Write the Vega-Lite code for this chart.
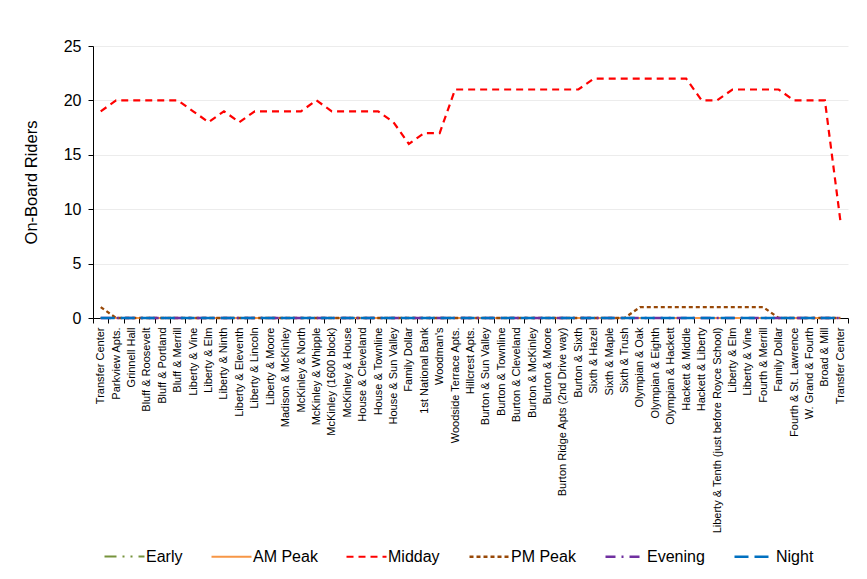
{
  "$schema": "https://vega.github.io/schema/vega-lite/v6.json",
  "autosize": {"type": "none"},
  "width": 755,
  "height": 272,
  "padding": {"left": 93, "top": 46, "right": 19, "bottom": 261},
  "background": "white",
  "config": {
    "font": "Liberation Sans",
    "view": {"stroke": null}
  },
  "data": {
    "values": [
      {"stop": "Transfer Center", "Early": 0, "AM Peak": 0, "Midday": 19, "PM Peak": 1, "Evening": 0, "Night": 0},
      {"stop": "Parkview Apts.", "Early": 0, "AM Peak": 0, "Midday": 20, "PM Peak": 0, "Evening": 0, "Night": 0},
      {"stop": "Grinnell Hall", "Early": 0, "AM Peak": 0, "Midday": 20, "PM Peak": 0, "Evening": 0, "Night": 0},
      {"stop": "Bluff & Roosevelt", "Early": 0, "AM Peak": 0, "Midday": 20, "PM Peak": 0, "Evening": 0, "Night": 0},
      {"stop": "Bluff & Portland", "Early": 0, "AM Peak": 0, "Midday": 20, "PM Peak": 0, "Evening": 0, "Night": 0},
      {"stop": "Bluff & Merrill", "Early": 0, "AM Peak": 0, "Midday": 20, "PM Peak": 0, "Evening": 0, "Night": 0},
      {"stop": "Liberty & Vine", "Early": 0, "AM Peak": 0, "Midday": 19, "PM Peak": 0, "Evening": 0, "Night": 0},
      {"stop": "Liberty & Elm", "Early": 0, "AM Peak": 0, "Midday": 18, "PM Peak": 0, "Evening": 0, "Night": 0},
      {"stop": "Liberty & Ninth", "Early": 0, "AM Peak": 0, "Midday": 19, "PM Peak": 0, "Evening": 0, "Night": 0},
      {"stop": "Liberty & Eleventh", "Early": 0, "AM Peak": 0, "Midday": 18, "PM Peak": 0, "Evening": 0, "Night": 0},
      {"stop": "Liberty & Lincoln", "Early": 0, "AM Peak": 0, "Midday": 19, "PM Peak": 0, "Evening": 0, "Night": 0},
      {"stop": "Liberty & Moore", "Early": 0, "AM Peak": 0, "Midday": 19, "PM Peak": 0, "Evening": 0, "Night": 0},
      {"stop": "Madison & McKinley", "Early": 0, "AM Peak": 0, "Midday": 19, "PM Peak": 0, "Evening": 0, "Night": 0},
      {"stop": "McKinley & North", "Early": 0, "AM Peak": 0, "Midday": 19, "PM Peak": 0, "Evening": 0, "Night": 0},
      {"stop": "McKinley & Whipple", "Early": 0, "AM Peak": 0, "Midday": 20, "PM Peak": 0, "Evening": 0, "Night": 0},
      {"stop": "McKinley  (1600 block)", "Early": 0, "AM Peak": 0, "Midday": 19, "PM Peak": 0, "Evening": 0, "Night": 0},
      {"stop": "McKinley & House", "Early": 0, "AM Peak": 0, "Midday": 19, "PM Peak": 0, "Evening": 0, "Night": 0},
      {"stop": "House & Cleveland", "Early": 0, "AM Peak": 0, "Midday": 19, "PM Peak": 0, "Evening": 0, "Night": 0},
      {"stop": "House & Townline", "Early": 0, "AM Peak": 0, "Midday": 19, "PM Peak": 0, "Evening": 0, "Night": 0},
      {"stop": "House & Sun Valley", "Early": 0, "AM Peak": 0, "Midday": 18, "PM Peak": 0, "Evening": 0, "Night": 0},
      {"stop": "Family Dollar", "Early": 0, "AM Peak": 0, "Midday": 16, "PM Peak": 0, "Evening": 0, "Night": 0},
      {"stop": "1st National Bank", "Early": 0, "AM Peak": 0, "Midday": 17, "PM Peak": 0, "Evening": 0, "Night": 0},
      {"stop": "Woodman's", "Early": 0, "AM Peak": 0, "Midday": 17, "PM Peak": 0, "Evening": 0, "Night": 0},
      {"stop": "Woodside Terrace Apts.", "Early": 0, "AM Peak": 0, "Midday": 21, "PM Peak": 0, "Evening": 0, "Night": 0},
      {"stop": "Hillcrest Apts.", "Early": 0, "AM Peak": 0, "Midday": 21, "PM Peak": 0, "Evening": 0, "Night": 0},
      {"stop": "Burton & Sun Valley", "Early": 0, "AM Peak": 0, "Midday": 21, "PM Peak": 0, "Evening": 0, "Night": 0},
      {"stop": "Burton & Townline", "Early": 0, "AM Peak": 0, "Midday": 21, "PM Peak": 0, "Evening": 0, "Night": 0},
      {"stop": "Burton & Cleveland", "Early": 0, "AM Peak": 0, "Midday": 21, "PM Peak": 0, "Evening": 0, "Night": 0},
      {"stop": "Burton & McKinley", "Early": 0, "AM Peak": 0, "Midday": 21, "PM Peak": 0, "Evening": 0, "Night": 0},
      {"stop": "Burton & Moore", "Early": 0, "AM Peak": 0, "Midday": 21, "PM Peak": 0, "Evening": 0, "Night": 0},
      {"stop": "Burton Ridge Apts (2nd Drive way)", "Early": 0, "AM Peak": 0, "Midday": 21, "PM Peak": 0, "Evening": 0, "Night": 0},
      {"stop": "Burton & Sixth", "Early": 0, "AM Peak": 0, "Midday": 21, "PM Peak": 0, "Evening": 0, "Night": 0},
      {"stop": "Sixth & Hazel", "Early": 0, "AM Peak": 0, "Midday": 22, "PM Peak": 0, "Evening": 0, "Night": 0},
      {"stop": "Sixth & Maple", "Early": 0, "AM Peak": 0, "Midday": 22, "PM Peak": 0, "Evening": 0, "Night": 0},
      {"stop": "Sixth & Trush", "Early": 0, "AM Peak": 0, "Midday": 22, "PM Peak": 0, "Evening": 0, "Night": 0},
      {"stop": "Olympian & Oak", "Early": 0, "AM Peak": 0, "Midday": 22, "PM Peak": 1, "Evening": 0, "Night": 0},
      {"stop": "Olympian & Eighth", "Early": 0, "AM Peak": 0, "Midday": 22, "PM Peak": 1, "Evening": 0, "Night": 0},
      {"stop": "Olympian & Hackett", "Early": 0, "AM Peak": 0, "Midday": 22, "PM Peak": 1, "Evening": 0, "Night": 0},
      {"stop": "Hackett & Middle", "Early": 0, "AM Peak": 0, "Midday": 22, "PM Peak": 1, "Evening": 0, "Night": 0},
      {"stop": "Hackett & Liberty", "Early": 0, "AM Peak": 0, "Midday": 20, "PM Peak": 1, "Evening": 0, "Night": 0},
      {"stop": "Liberty & Tenth (just before Royce School)", "Early": 0, "AM Peak": 0, "Midday": 20, "PM Peak": 1, "Evening": 0, "Night": 0},
      {"stop": "Liberty & Elm\u200b", "Early": 0, "AM Peak": 0, "Midday": 21, "PM Peak": 1, "Evening": 0, "Night": 0},
      {"stop": "Liberty & Vine\u200b", "Early": 0, "AM Peak": 0, "Midday": 21, "PM Peak": 1, "Evening": 0, "Night": 0},
      {"stop": "Fourth & Merrill", "Early": 0, "AM Peak": 0, "Midday": 21, "PM Peak": 1, "Evening": 0, "Night": 0},
      {"stop": "Family Dollar\u200b", "Early": 0, "AM Peak": 0, "Midday": 21, "PM Peak": 0, "Evening": 0, "Night": 0},
      {"stop": "Fourth & St. Lawrence", "Early": 0, "AM Peak": 0, "Midday": 20, "PM Peak": 0, "Evening": 0, "Night": 0},
      {"stop": "W. Grand & Fourth", "Early": 0, "AM Peak": 0, "Midday": 20, "PM Peak": 0, "Evening": 0, "Night": 0},
      {"stop": "Broad & Mill", "Early": 0, "AM Peak": 0, "Midday": 20, "PM Peak": 0, "Evening": 0, "Night": 0},
      {"stop": "Transfer Center\u200b", "Early": 0, "AM Peak": 0, "Midday": 9, "PM Peak": 0, "Evening": 0, "Night": 0}
    ]
  },
  "transform": [
    {"fold": ["Early", "AM Peak", "Midday", "PM Peak", "Evening", "Night"], "as": ["period", "riders"]}
  ],
  "mark": {"type": "line", "strokeCap": "butt", "clip": false},
  "encoding": {
    "x": {
      "field": "stop",
      "type": "nominal",
      "sort": null,
      "scale": {"type": "band", "paddingInner": 0, "paddingOuter": 0},
      "axis": {
        "title": null,
        "labelAngle": -90,
        "labelAlign": "right",
        "labelBaseline": "middle",
        "labelFontSize": 11,
        "labelColor": "#000000",
        "labelLimit": 400,
        "labelPadding": 4,
        "labelOverlap": false,
        "tickBand": "extent",
        "tickSize": 5,
        "tickColor": "#000000",
        "domainColor": "#000000",
        "grid": false
      }
    },
    "y": {
      "field": "riders",
      "type": "quantitative",
      "scale": {"domain": [0, 25], "nice": false},
      "axis": {
        "title": "On-Board Riders",
        "titleFontSize": 16.5,
        "titleFontWeight": "normal",
        "titleColor": "#000000",
        "titlePadding": 24,
        "values": [0, 5, 10, 15, 20, 25],
        "labelFontSize": 16,
        "labelColor": "#000000",
        "labelPadding": 7,
        "tickSize": 5,
        "tickColor": "#000000",
        "domainColor": "#000000",
        "gridColor": "#ececec"
      }
    },
    "color": {
      "field": "period",
      "type": "nominal",
      "title": null,
      "scale": {
        "domain": ["Early", "AM Peak", "Midday", "PM Peak", "Evening", "Night"],
        "range": ["#77933C", "#F79646", "#FF0000", "#984807", "#7030A0", "#0070C0"]
      },
      "legend": {
        "orient": "none",
        "legendX": 10,
        "legendY": 489,
        "direction": "horizontal",
        "columns": 6,
        "symbolType": "stroke",
        "symbolSize": 1600,
        "symbolStrokeWidth": 2.5,
        "labelFontSize": 16,
        "labelColor": "#000000",
        "labelOffset": 0,
        "columnPadding": 24,
        "labelLimit": 200
      }
    },
    "strokeDash": {
      "field": "period",
      "type": "nominal",
      "title": null,
      "scale": {
        "domain": ["Early", "AM Peak", "Midday", "PM Peak", "Evening", "Night"],
        "range": [[12, 6, 2, 6, 2, 6], [1, 0], [7, 5], [4, 3], [10, 6, 2, 6], [14, 6]]
      }
    },
    "strokeWidth": {
      "field": "period",
      "type": "nominal",
      "legend": null,
      "scale": {
        "domain": ["Early", "AM Peak", "Midday", "PM Peak", "Evening", "Night"],
        "range": [2, 2.5, 2.5, 2, 2, 3]
      }
    }
  }
}
